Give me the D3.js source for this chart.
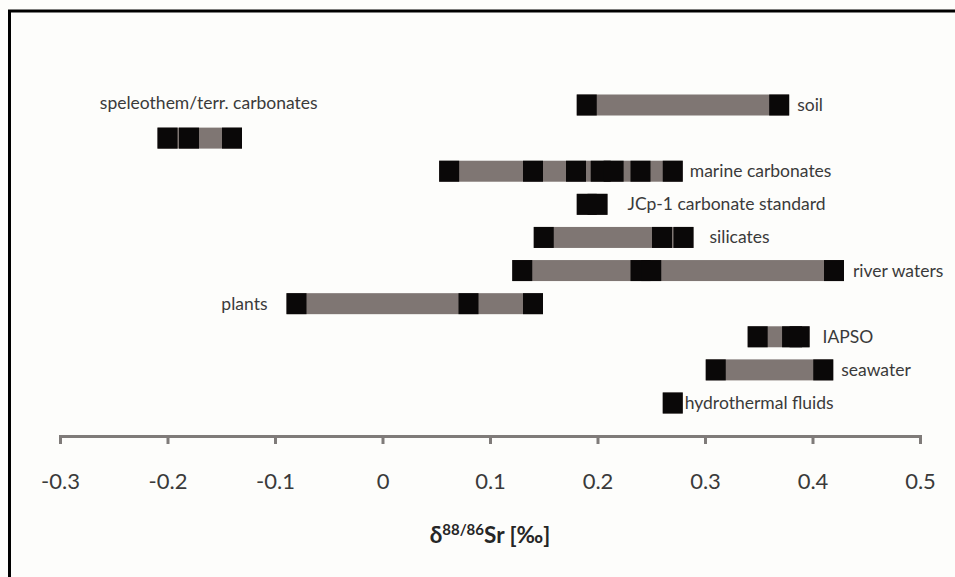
<!DOCTYPE html>
<html>
<head>
    <script src="https://cdn.jsdelivr.net/npm/d3@7/dist/d3.min.js"></script>
    <style>
        body { margin: 0; background: #fdfdfb; }
        svg { display: block; }
        .lbl { font-family: Lato, "Open Sans", sans-serif; font-size: 17.5px; fill: #3a3a3a; }
        .tick text { font-family: Lato, "Open Sans", sans-serif; font-size: 22px; fill: #3a3a3a; }
    </style>
</head>
<body>
<svg width="955" height="577"></svg>
<script>
// categories top to bottom
const categories = ["soil", "speleothem/terr. carbonates", "marine carbonates",
    "JCp-1 carbonate standard", "silicates", "river waters", "plants",
    "IAPSO", "seawater", "hydrothermal fluids"];

// d88/86Sr values (permil) for each group, one black square per value
const soil = [0.19, 0.369];
const speleothem = [-0.20, -0.18, -0.14];
const marineCarbonates = [0.062, 0.140, 0.180, 0.203, 0.215, 0.240, 0.270];
const jcp1 = [0.190, 0.200];
const silicates = [0.150, 0.260, 0.280];
const riverWaters = [0.130, 0.240, 0.250, 0.420];
const plants = [-0.080, 0.080, 0.140];
const iapso = [0.349, 0.381, 0.388];
const seawater = [0.310, 0.410];
const hydrothermal = [0.270];

const tickValues = [-0.3, -0.2, -0.1, 0, 0.1, 0.2, 0.3, 0.4, 0.5];
const tickLabels = ["-0.3", "-0.2", "-0.1", "0", "0.1", "0.2", "0.3", "0.4", "0.5"];

const groups = [soil, speleothem, marineCarbonates, jcp1, silicates, riverWaters,
    plants, iapso, seawater, hydrothermal];

// label placement (layout only)
const labelGap = { "soil": 8, "marine carbonates": 7, "JCp-1 carbonate standard": 20,
    "silicates": 16, "river waters": 9, "IAPSO": 13, "seawater": 8, "hydrothermal fluids": 2 };

const svg = d3.select("svg");

// frame
svg.append("path")
    .attr("d", "M9.5,577 V11 H955")
    .attr("fill", "none")
    .attr("stroke", "#000")
    .attr("stroke-width", 3);

const x = d3.scaleLinear().domain([-0.3, 0.5]).range([60, 920]);
const y = d3.scalePoint().domain(categories).range([105, 403]);

const sq = 20, h = 21;

const rows = svg.selectAll("g.row")
    .data(categories.map((c, i) => ({ name: c, vals: groups[i] })))
    .enter()
    .append("g")
    .attr("class", "row")
    .attr("transform", d => "translate(0," + y(d.name) + ")");

rows.append("rect")
    .attr("x", d => x(d3.min(d.vals)) - sq / 2)
    .attr("y", -h / 2)
    .attr("width", d => x(d3.max(d.vals)) - x(d3.min(d.vals)) + sq)
    .attr("height", h)
    .attr("fill", "#7f7673");

rows.selectAll("rect.pt")
    .data(d => d.vals)
    .enter()
    .append("rect")
    .attr("class", "pt")
    .attr("x", v => x(v) - sq / 2)
    .attr("y", -h / 2)
    .attr("width", sq)
    .attr("height", h)
    .attr("fill", "#0a0808");

rows.append("text")
    .attr("class", "lbl")
    .attr("x", d => {
        if (d.name === "plants") return x(d3.min(d.vals)) - sq / 2 - 19;
        if (d.name.startsWith("speleothem")) return x(d3.mean(d3.extent(d.vals))) + 9;
        return x(d3.max(d.vals)) + sq / 2 + labelGap[d.name];
    })
    .attr("y", d => d.name.startsWith("speleothem") ? -29 : 6)
    .attr("text-anchor", d => d.name === "plants" ? "end" : (d.name.startsWith("speleothem") ? "middle" : "start"))
    .text(d => d.name);

// axis
const axis = svg.append("g")
    .attr("transform", "translate(0,436)")
    .call(d3.axisBottom(x)
        .tickValues(tickValues)
        .tickFormat((d, i) => tickLabels[i])
        .tickSize(8)
        .tickSizeOuter(8)
        .tickPadding(29));

axis.select(".domain").attr("stroke", "#7f7b79").attr("stroke-width", 3);
axis.selectAll(".tick line").attr("stroke", "#7f7b79").attr("stroke-width", 3);

const title = svg.append("text")
    .attr("x", 490)
    .attr("y", 543)
    .attr("text-anchor", "middle")
    .style("font-family", "Lato, 'Open Sans', sans-serif")
    .style("font-weight", "bold")
    .style("font-size", "22.5px")
    .style("fill", "#262626");
title.append("tspan").text("δ");
title.append("tspan").attr("dy", -8).style("font-size", "15px").text("88/86");
title.append("tspan").attr("dy", 8).text("Sr [‰]");
</script>
</body>
</html>
